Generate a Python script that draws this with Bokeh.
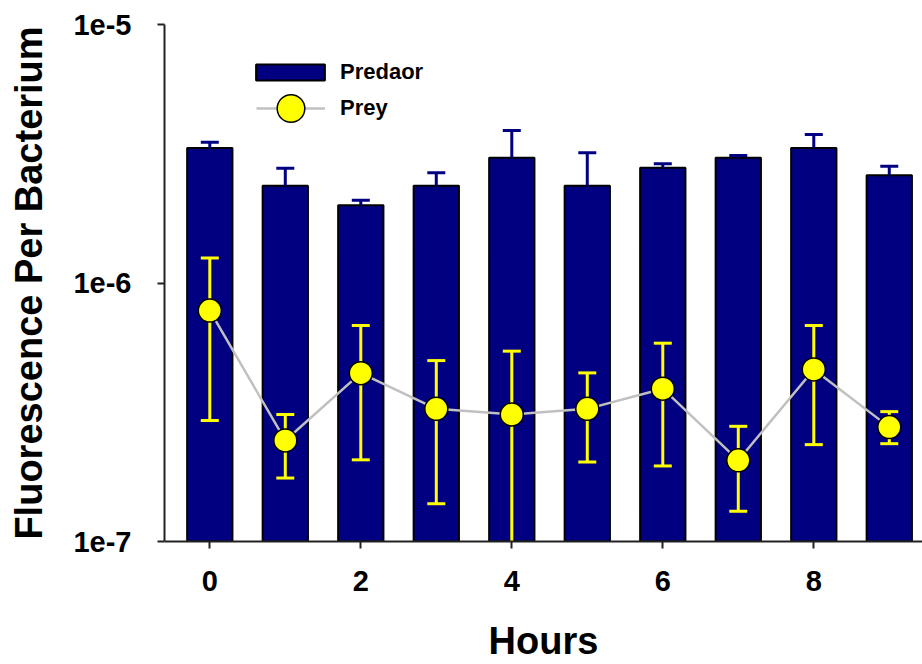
from bokeh.plotting import figure
from bokeh.models import (ColumnDataSource, Whisker, TeeHead, Legend, LegendItem,
                          FixedTicker, CustomJSTickFormatter, Range1d)
from bokeh.embed import file_html
from bokeh.resources import INLINE

hours = [0, 1, 2, 3, 4, 5, 6, 7, 8, 9]
predator = [3.33e-6, 2.38e-6, 2.00e-6, 2.38e-6, 3.05e-6, 2.38e-6, 2.79e-6, 3.05e-6, 3.33e-6, 2.61e-6]
predator_upper = [3.50e-6, 2.78e-6, 2.09e-6, 2.67e-6, 3.89e-6, 3.19e-6, 2.89e-6, 3.11e-6, 3.75e-6, 2.83e-6]
prey = [7.82e-7, 2.46e-7, 4.48e-7, 3.26e-7, 3.10e-7, 3.26e-7, 3.90e-7, 2.06e-7, 4.63e-7, 2.77e-7]
prey_upper = [1.25e-6, 3.10e-7, 6.85e-7, 5.01e-7, 5.45e-7, 4.49e-7, 5.85e-7, 2.79e-7, 6.85e-7, 3.18e-7]
prey_lower = [2.94e-7, 1.76e-7, 2.07e-7, 1.40e-7, 6.0e-8, 2.03e-7, 1.96e-7, 1.31e-7, 2.37e-7, 2.39e-7]
x_ticks = [0, 2, 4, 6, 8]
y_ticks = [1e-7, 1e-6, 1e-5]

FONT = "Liberation Sans"
NAVY = "#000080"
YELLOW = "#ffff00"

src_pred = ColumnDataSource(dict(x=hours, top=predator, upper=predator_upper,
                                 bottom=[1e-9] * len(hours)))
src_prey = ColumnDataSource(dict(x=hours, y=prey, upper=prey_upper, lower=prey_lower))

p = figure(width=922, height=664, y_axis_type="log",
           x_range=Range1d(-0.6, 9.44), y_range=Range1d(1e-7, 1e-5),
           output_backend="svg", toolbar_location=None,
           min_border_left=164, min_border_top=24, min_border_bottom=123,
           min_border_right=0, outline_line_color=None,
           background_fill_color="white", border_fill_color="white")
p.grid.visible = False

bars = p.vbar(x="x", top="top", bottom="bottom", width=0.6, source=src_pred,
              fill_color=NAVY, line_color="black", line_width=2, level="image")

w_pred = Whisker(source=src_pred, base="x", upper="upper", lower="top",
                 line_color=NAVY, line_width=3, level="underlay",
                 upper_head=TeeHead(size=18, line_color=NAVY, line_width=3),
                 lower_head=None)
p.add_layout(w_pred)

prey_line = p.line(x="x", y="y", source=src_prey, line_color="#c0c0c0", line_width=2.5)

w_prey = Whisker(source=src_prey, base="x", upper="upper", lower="lower",
                 line_color=YELLOW, line_width=3, level="underlay",
                 upper_head=TeeHead(size=18, line_color=YELLOW, line_width=3),
                 lower_head=TeeHead(size=18, line_color=YELLOW, line_width=3))
p.add_layout(w_prey)

prey_pts = p.scatter(x="x", y="y", source=src_prey, size=23, fill_color=YELLOW,
                     line_color="black", line_width=1.5)

# axes
xa = p.xaxis[0]
xa.ticker = FixedTicker(ticks=x_ticks)
xa.axis_label = "Hours"
ya = p.yaxis[0]
ya.ticker = FixedTicker(ticks=y_ticks)
ya.formatter = CustomJSTickFormatter(code="return '1e' + Math.round(Math.log10(tick));")
ya.axis_label = "Fluorescence Per Bacterium"
for ax in (xa, ya):
    ax.axis_line_width = 2
    ax.axis_line_color = "#222222"
    ax.major_tick_line_width = 2
    ax.major_tick_line_color = "#222222"
    ax.major_tick_in = 0
    ax.major_tick_out = 7
    ax.minor_tick_line_color = None
    ax.major_label_text_font = FONT
    ax.major_label_text_font_style = "bold"
    ax.major_label_text_font_size = "29px"
    ax.major_label_text_color = "black"
    ax.axis_label_text_font = FONT
    ax.axis_label_text_font_style = "bold"
    ax.axis_label_text_font_size = "38px"
    ax.axis_label_text_color = "black"
xa.major_label_standoff = 22
xa.axis_label_standoff = 26
ya.major_label_standoff = 26
ya.axis_label_standoff = 20

common = dict(padding=0, margin=0, spacing=0, border_line_color=None,
              background_fill_alpha=0, label_height=20,
              label_text_font=FONT, label_text_font_style="bold",
              label_text_font_size="22px", label_text_color="black")
legend_pred = Legend(items=[LegendItem(label="Predaor", renderers=[bars])],
                     location=(83, 456), glyph_width=86, glyph_height=20,
                     label_standoff=7, **common)
legend_prey = Legend(items=[LegendItem(label="Prey", renderers=[prey_line, prey_pts])],
                     location=(92, 398), glyph_width=69, glyph_height=70,
                     label_standoff=15, **common)
p.add_layout(legend_pred)
p.add_layout(legend_prey)

open("out.html", "w").write(file_html(p, INLINE))
